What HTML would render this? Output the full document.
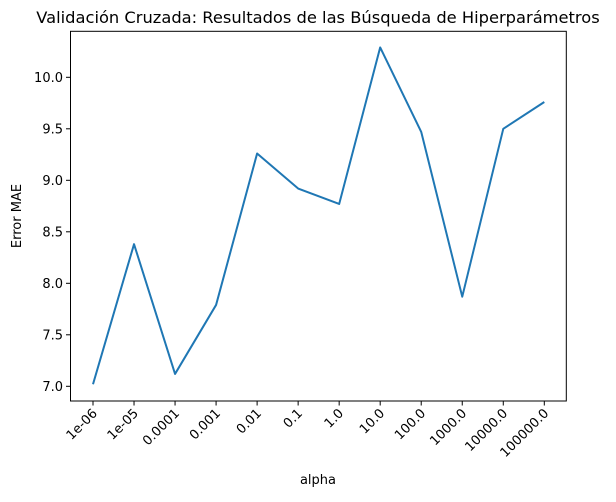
<!DOCTYPE html>
<html><head><meta charset="utf-8"><style>
body{margin:0;background:#fff}
svg text{font-family:"DejaVu Sans","Liberation Sans",sans-serif;fill:#000}
</style></head><body>
<svg width="616" height="497" viewBox="0 0 616 497">
<rect width="616" height="497" fill="#fff"/>
<text x="318" y="23" font-size="16.3" text-anchor="middle">Validación Cruzada: Resultados de las Búsqueda de Hiperparámetros</text>
<g id="yt"></g><g id="xt"></g>
<polyline id="line" fill="none" stroke="#1f77b4" stroke-width="2" stroke-linejoin="round"/>
<rect x="70.5" y="31.3" width="495.8" height="369.7" fill="none" stroke="#000" stroke-width="1"/>
<text x="318" y="484" font-size="13" text-anchor="middle">alpha</text>
<text transform="translate(21,216) rotate(-90)" font-size="13" text-anchor="middle">Error MAE</text>
</svg>
<script>
const categories=["1e-06","1e-05","0.0001","0.001","0.01","0.1","1.0","10.0","100.0","1000.0","10000.0","100000.0"];
const maeValues=[7.02,8.38,7.12,7.79,9.26,8.92,8.77,10.29,9.47,7.87,9.50,9.76];
const yTicks=[7.0,7.5,8.0,8.5,9.0,9.5,10.0];
const NS="http://www.w3.org/2000/svg";
function xs(i){return 93+i*(544.3-93)/11;}
function ys(v){return 386.3-(v-7)*103;}
const yt=document.getElementById('yt'),xt=document.getElementById('xt');
yTicks.forEach(t=>{
 const l=document.createElementNS(NS,'line');
 l.setAttribute('x1',66);l.setAttribute('x2',70.5);l.setAttribute('y1',ys(t));l.setAttribute('y2',ys(t));l.setAttribute('stroke','#000');
 
 
 yt.appendChild(l);
 const tx=document.createElementNS(NS,'text');
 tx.setAttribute('x',63);tx.setAttribute('y',ys(t)+4.5);tx.setAttribute('font-size','13');tx.setAttribute('text-anchor','end');
 tx.textContent=t.toFixed(1);
 
 
 yt.appendChild(tx);
});
categories.forEach((c,i)=>{
 const x=xs(i);
 const l=document.createElementNS(NS,'line');
 l.setAttribute('x1',x);l.setAttribute('x2',x);l.setAttribute('y1',401);l.setAttribute('y2',405.5);l.setAttribute('stroke','#000');
 
 
 xt.appendChild(l);
 const tx=document.createElementNS(NS,'text');
 tx.setAttribute('transform','translate('+(x+5)+',414) rotate(-45)');
 tx.setAttribute('font-size','13');tx.setAttribute('text-anchor','end');
 tx.textContent=c;
 
 
 xt.appendChild(tx);
});
document.getElementById('line').setAttribute('points',maeValues.map((v,i)=>xs(i)+','+ys(v)).join(' '));
</script>
</body></html>
